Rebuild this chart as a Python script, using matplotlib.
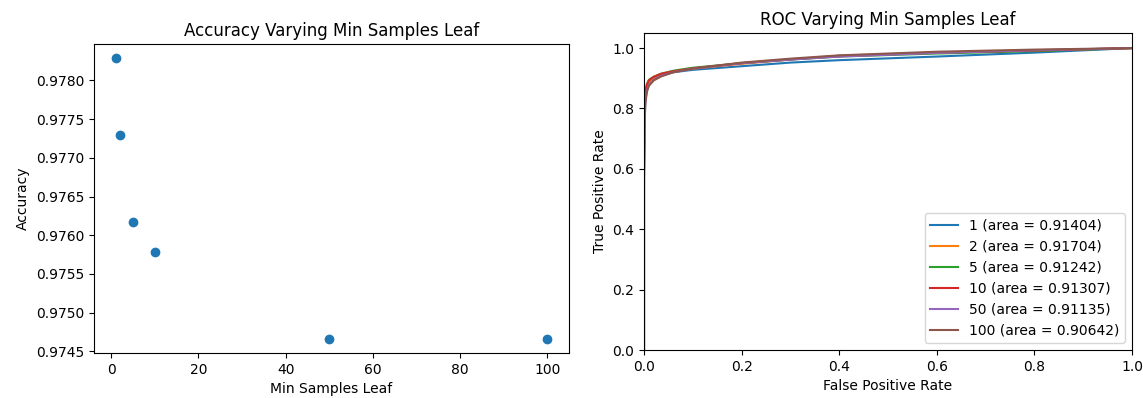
import numpy as np
import matplotlib.pyplot as plt

# min_samples_leaf vs accuracy
leaf_sizes = [1, 2, 5, 10, 50, 100]
accuracy = [0.97829, 0.97729, 0.97617, 0.97578, 0.97466, 0.97466]

# ROC curves per min_samples_leaf
roc_labels = ['1', '2', '5', '10', '50', '100']
roc_areas = [0.91404, 0.91704, 0.91242, 0.91307, 0.91135, 0.90642]
fpr_1 = [0.0, 0.0, 0.001, 0.003, 0.006, 0.01, 0.02, 0.035, 0.06, 0.1, 0.2, 0.3, 0.4, 0.6, 0.8, 1.0]
tpr_1 = [0.0, 0.58, 0.78, 0.84, 0.87, 0.885, 0.9, 0.91, 0.92, 0.928, 0.94, 0.952, 0.96, 0.972, 0.985, 1.0]
fpr_2 = [0.0, 0.0, 0.001, 0.003, 0.006, 0.01, 0.02, 0.035, 0.06, 0.1, 0.2, 0.3, 0.4, 0.6, 0.8, 1.0]
tpr_2 = [0.0, 0.6, 0.79, 0.85, 0.875, 0.888, 0.9, 0.908, 0.922, 0.932, 0.948, 0.962, 0.975, 0.985, 0.992, 1.0]
fpr_5 = [0.0, 0.0, 0.001, 0.003, 0.006, 0.01, 0.02, 0.035, 0.06, 0.1, 0.2, 0.3, 0.4, 0.6, 0.8, 1.0]
tpr_5 = [0.0, 0.57, 0.8, 0.86, 0.88, 0.895, 0.905, 0.915, 0.925, 0.935, 0.95, 0.962, 0.972, 0.982, 0.99, 1.0]
fpr_10 = [0.0, 0.0, 0.001, 0.003, 0.006, 0.01, 0.02, 0.035, 0.06, 0.1, 0.2, 0.3, 0.4, 0.6, 0.8, 1.0]
tpr_10 = [0.0, 0.59, 0.8, 0.855, 0.88, 0.893, 0.905, 0.915, 0.923, 0.933, 0.95, 0.963, 0.973, 0.985, 0.992, 1.0]
fpr_50 = [0.0, 0.0, 0.001, 0.003, 0.006, 0.01, 0.02, 0.035, 0.06, 0.1, 0.2, 0.3, 0.4, 0.6, 0.8, 1.0]
tpr_50 = [0.0, 0.56, 0.76, 0.83, 0.86, 0.878, 0.895, 0.908, 0.92, 0.932, 0.95, 0.962, 0.972, 0.984, 0.993, 1.0]
fpr_100 = [0.0, 0.0, 0.001, 0.003, 0.006, 0.01, 0.02, 0.035, 0.06, 0.1, 0.2, 0.3, 0.4, 0.6, 0.8, 1.0]
tpr_100 = [0.0, 0.57, 0.75, 0.82, 0.855, 0.875, 0.893, 0.906, 0.92, 0.932, 0.952, 0.965, 0.976, 0.988, 0.995, 1.0]
roc_fpr = [fpr_1, fpr_2, fpr_5, fpr_10, fpr_50, fpr_100]
roc_tpr = [tpr_1, tpr_2, tpr_5, tpr_10, tpr_50, tpr_100]

fig = plt.figure(figsize=(11.43, 3.98), dpi=100)

ax1 = fig.add_axes([94 / 1143, 45 / 398, 475 / 1143, 309 / 398])
ax1.scatter(leaf_sizes, accuracy)
ax1.set_title('Accuracy Varying Min Samples Leaf')
ax1.set_xlabel('Min Samples Leaf')
ax1.set_ylabel('Accuracy')

ax2 = fig.add_axes([644 / 1143, 48 / 398, 488 / 1143, 317 / 398])
for lab, area, fpr, tpr in zip(roc_labels, roc_areas, roc_fpr, roc_tpr):
    ax2.plot(fpr, tpr, label='%s (area = %0.5f)' % (lab, area))
ax2.set_xlim([0.0, 1.0])
ax2.set_ylim([0.0, 1.05])
ax2.set_title('ROC Varying Min Samples Leaf')
ax2.set_xlabel('False Positive Rate')
ax2.set_ylabel('True Positive Rate')
ax2.legend(loc='lower right')

fig.savefig('out.png', dpi=100)
